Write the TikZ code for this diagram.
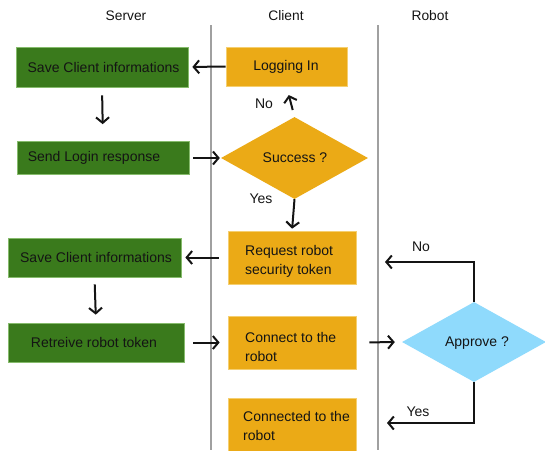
\documentclass[tikz,border=0pt]{standalone}
\usepackage{fontspec}
\setmainfont{Liberation Sans}
\usetikzlibrary{arrows.meta,shapes.geometric,calc}

\definecolor{srvgreen}{HTML}{3A7A1C}
\definecolor{srvedge}{HTML}{86BB6C}
\definecolor{cliorange}{HTML}{EBAA16}
\definecolor{cliedge}{HTML}{F5CF70}
\definecolor{robblue}{HTML}{8FDAFC}
\definecolor{lanegray}{HTML}{A0A0A0}
\definecolor{ink}{HTML}{141414}

\tikzset{
  serverbox/.style={rectangle, fill=srvgreen, draw=srvedge, line width=0.7pt, inner sep=0pt},
  clientbox/.style={rectangle, fill=cliorange, draw=cliedge, line width=0.7pt, inner sep=0pt},
  decision/.style={diamond, inner sep=0pt, draw=none},
  txt/.style={inner sep=0pt, text=ink, font=\fontsize{14}{19}\selectfont},
  title/.style={inner sep=0pt, text=ink, font=\fontsize{13.8}{16}\selectfont},
  flow/.style={line width=2pt, ink, -{Straight Barb[length=5.5pt,width=13pt,line width=2pt]}},
  lane/.style={lanegray, line width=1.6pt},
}

\begin{document}
\begin{tikzpicture}[x=1pt, y=-1pt]
  \useasboundingbox (0,0) rectangle (545,450);

  % column headings and lane separators
  \node[title] (hsrv) at (126,16) {Server};
  \node[title] (hcli) at (286,16) {Client};
  \node[title] (hrob) at (430,16) {Robot};
  \draw[lane] (211,25) -- (211,450);
  \draw[lane] (378,25) -- (378,450);

  % server column
  \node[serverbox, minimum width=172pt, minimum height=40pt] (save1) at (102,67) {};
  \node[txt] (tsave1) at (103.5,67) {Save Client informations};
  \node[serverbox, minimum width=172pt, minimum height=33pt] (send) at (103,158) {};
  \node[txt] (tsend) at (94,158) {Send Login response};
  \node[serverbox, minimum width=173pt, minimum height=39pt] (save2) at (94.5,257.5) {};
  \node[txt] (tsave2) at (96,257.5) {Save Client informations};
  \node[serverbox, minimum width=176pt, minimum height=39pt] (fetch) at (96,342.5) {};
  \node[txt] (tfetch) at (94,342) {Retreive robot token};

  % client column
  \node[clientbox, minimum width=121pt, minimum height=39pt] (login) at (286.5,66.5) {};
  \node[txt] (tlogin) at (286,67) {Logging In};
  \node[decision, fill=cliorange, minimum width=147pt, minimum height=82pt] (success) at (294.5,158) {};
  \node[txt] (tsuccess) at (295,158) {Success ?};
  \node[clientbox, minimum width=128pt, minimum height=53pt] (request) at (292,257.5) {};
  \node[txt, anchor=west, align=left] (trequest) at (245,261.5) {Request robot\\security token};
  \node[clientbox, minimum width=128pt, minimum height=53pt] (connect) at (292,342.5) {};
  \node[txt, anchor=west, align=left] (tconnect) at (245,346.5) {Connect to the\\robot};
  \node[clientbox, minimum width=128pt, minimum height=54pt] (connected) at (292,425) {};
  \node[txt, anchor=west, align=left] (tconnected) at (243,425.5) {Connected to the\\robot};

  % robot column
  \node[decision, fill=robblue, minimum width=144pt, minimum height=80pt] (approve) at (474,342) {};
  \node[txt] (tapprove) at (477,343) {Approve ?};

  % branch labels
  \node[txt] (lno1) at (264,104) {No};
  \node[txt] (lyes1) at (261,199) {Yes};
  \node[txt] (lno2) at (421,247) {No};
  \node[txt] (lyes2) at (418,412) {Yes};

  % free ends of the robot's answers
  \coordinate (noend) at (385,262);
  \coordinate (yesend) at (387,423);

  % connectors
  \draw[flow, shorten >=4pt] (login.west) -- (save1.east);
  \draw[flow, shorten <=8pt, shorten >=17pt] (save1.south) -- (send.north);
  \draw[flow, shorten <=4pt, shorten >=1pt] (send.east) -- (success.west);
  \draw[flow, shorten <=7pt, shorten >=9pt] (success.north) -- (login.south);
  \draw[flow, shorten >=2pt] (success.south) -- (request.north);
  \draw[flow, shorten <=9pt, shorten >=4pt] (request.west) -- (save2.east);
  \draw[flow, shorten <=7pt, shorten >=8pt] (save2.south) -- (fetch.north);
  \draw[flow, shorten <=9pt, shorten >=8pt] (fetch.east) -- (connect.west);
  \draw[flow, shorten <=13pt, shorten >=7pt] (connect.east) -- (approve.west);
  \draw[flow] (approve.north) |- (noend);
  \draw[flow] (approve.south) |- (yesend);
\end{tikzpicture}
\end{document}
